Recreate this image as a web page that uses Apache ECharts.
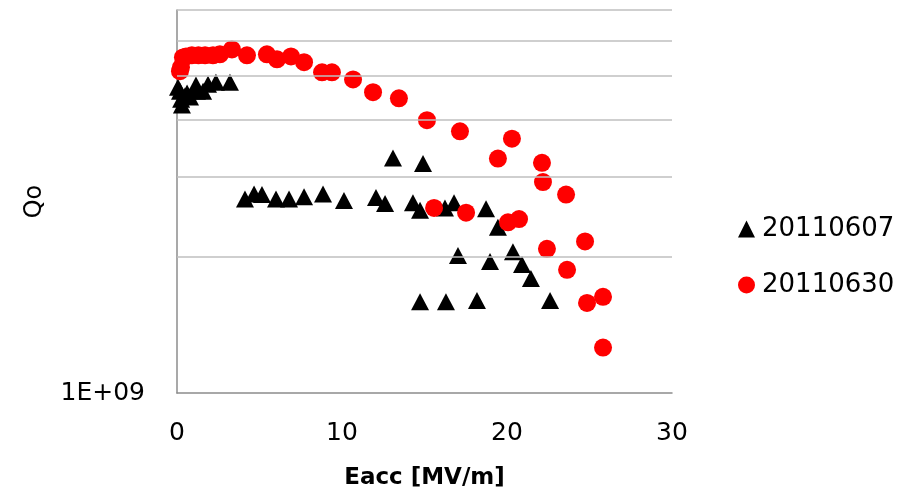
<!DOCTYPE html>
<html>
<head>
<meta charset="utf-8">
<script src="https://cdn.jsdelivr.net/npm/echarts@6/dist/echarts.min.js"></script>
<style>html,body{margin:0;padding:0;background:#fff;}#c{width:908px;height:497px;}</style>
</head>
<body>
<div id="c"></div>
<script>
// Series names
var seriesNames = ['20110607', '20110630'];
// Eacc [MV/m] and Qo (in units of 1E+09)
var s20110607 = [
  [0.06,4.73],[0.18,4.63],[0.30,4.32],[0.25,4.45],[0.48,4.52],[0.61,4.59],[0.79,4.50],[1.15,4.78],[1.21,4.63],[1.58,4.63],[1.88,4.80],[2.36,4.85],[3.21,4.85],
  [4.12,2.68],[4.67,2.75],[5.15,2.74],[6.00,2.68],[6.79,2.68],[7.70,2.71],[8.85,2.75],[10.12,2.66],[12.06,2.70],[12.61,2.62],[13.09,3.30],[14.30,2.63],[14.73,2.53],[14.91,3.21],[16.24,2.56],[16.79,2.63],[17.03,2.01],[18.73,2.55],[18.97,1.95],[19.45,2.32],[20.36,2.05],[20.91,1.92],[21.45,1.79],[14.73,1.59],[16.30,1.59],[18.18,1.60],[22.61,1.60]
];
var s20110630 = [
  [0.18,5.13],[0.24,5.23],[0.36,5.50],[0.55,5.53],[0.90,5.56],[1.30,5.56],[1.70,5.56],[2.18,5.56],[2.60,5.59],[3.33,5.73],[4.24,5.56],[5.45,5.59],[6.06,5.45],[6.91,5.53],[7.70,5.37],[8.79,5.10],[9.39,5.10],[10.67,4.92],[11.88,4.61],[13.45,4.47],[15.15,4.00],[17.15,3.78],[20.30,3.64],[19.45,3.29],[22.12,3.22],[22.18,2.92],[23.58,2.74],[15.58,2.56],[17.52,2.50],[20.06,2.38],[20.73,2.42],[22.42,2.08],[24.73,2.16],[23.64,1.87],[24.85,1.58],[25.82,1.63],[25.82,1.26]
];
// Axis ranges / gridlines
var xTicks = [0, 10, 20, 30];
var yMin = 1e9, yMax = 7e9;
var yGridValues = [2e9, 3e9, 4e9, 5e9, 6e9, 7e9];

function toQ(arr) { return arr.map(function (p) { return [p[0], p[1] * 1e9]; }); }

var chart = echarts.init(document.getElementById('c'), null, {renderer: 'canvas'});
var font = 'DejaVu Sans';
chart.setOption({
  animation: false,
  backgroundColor: '#ffffff',
  grid: {left: 177, top: 10, right: 236, bottom: 104, containLabel: false},
  legend: {
    orient: 'vertical',
    left: 733,
    top: 211,
    itemGap: 30,
    itemWidth: 17,
    itemHeight: 17,
    data: [
      {name: seriesNames[0], icon: 'triangle'},
      {name: seriesNames[1], icon: 'circle'}
    ],
    textStyle: {fontFamily: font, fontSize: 26, color: '#000', padding: [0, 0, 0, 2]}
  },
  xAxis: {
    type: 'value',
    min: xTicks[0],
    max: xTicks[xTicks.length - 1],
    interval: 10,
    name: 'Eacc [MV/m]',
    nameLocation: 'middle',
    nameGap: 74,
    nameTextStyle: {fontFamily: font, fontSize: 23, fontWeight: 'bold', color: '#000'},
    axisLine: {show: true, lineStyle: {color: '#8c8c8c', width: 1.5}},
    axisTick: {show: false},
    splitLine: {show: false},
    axisLabel: {fontFamily: font, fontSize: 25, color: '#000', margin: 28}
  },
  yAxis: {
    type: 'log',
    logBase: 10,
    min: yMin,
    max: yMax,
    name: 'Qo',
    nameLocation: 'middle',
    nameRotate: 90,
    nameGap: 130,
    nameTextStyle: {fontFamily: font, fontSize: 24, color: '#000'},
    axisLine: {show: true, lineStyle: {color: '#8c8c8c', width: 1.5}},
    axisTick: {show: false},
    splitLine: {show: false},
    axisLabel: {
      fontFamily: font, fontSize: 25, color: '#000', margin: 32,
      showMaxLabel: false,
      formatter: function (v) {
        var e = Math.round(Math.log10(v));
        var m = v / Math.pow(10, e);
        if (Math.abs(m - 1) > 1e-6) return '';
        return '1E+' + (e < 10 ? '0' : '') + e;
      }
    }
  },
  series: [
    {
      name: '__grid',
      type: 'scatter',
      data: [],
      z: 1,
      silent: true,
      markLine: {
        silent: true,
        symbol: 'none',
        label: {show: false},
        lineStyle: {color: '#bfbfbf', width: 1.5, type: 'solid'},
        data: yGridValues.map(function (v) { return {yAxis: v}; })
      }
    },
    {
      name: seriesNames[0],
      type: 'scatter',
      symbol: 'triangle',
      symbolSize: [18, 17],
      z: 3,
      itemStyle: {color: '#000000', opacity: 1},
      data: toQ(s20110607)
    },
    {
      name: seriesNames[1],
      type: 'scatter',
      symbol: 'circle',
      symbolSize: 18,
      z: 4,
      itemStyle: {color: '#ff0000', opacity: 1},
      data: toQ(s20110630)
    }
  ]
});
</script>
</body>
</html>
